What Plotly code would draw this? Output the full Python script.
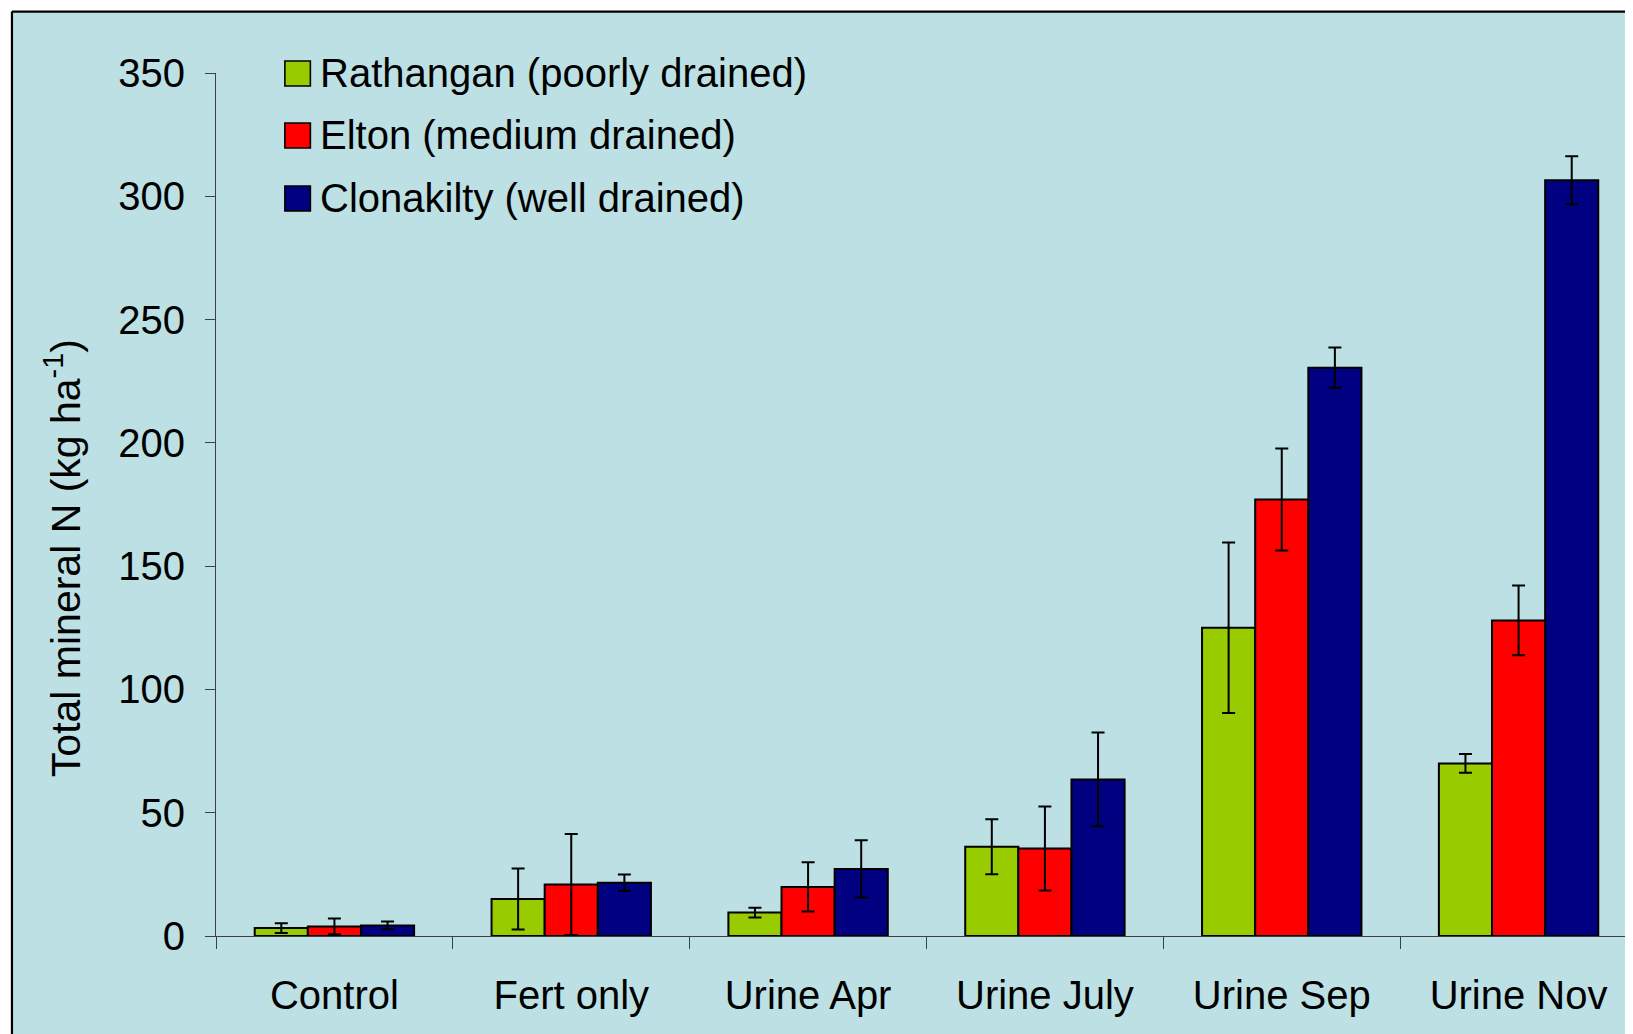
import plotly.graph_objects as go

categories = ["Control", "Fert only", "Urine Apr", "Urine July", "Urine Sep", "Urine Nov"]
series_names = ["Rathangan (poorly drained)", "Elton (medium drained)", "Clonakilty (well drained)"]
rathangan = [3.2, 15.0, 9.5, 36.2, 125.0, 70.0]
rathangan_err = [2.0, 12.4, 2.0, 11.2, 34.6, 3.8]
elton = [3.9, 20.9, 19.9, 35.5, 177.0, 128.0]
elton_err = [3.2, 20.5, 10.0, 17.0, 20.7, 14.1]
clonakilty = [4.3, 21.6, 27.2, 63.5, 230.5, 306.5]
clonakilty_err = [1.6, 3.3, 11.6, 19.0, 8.2, 9.7]
colors = ["#99CC00", "#FF0000", "#000080"]
y_ticks = [0, 50, 100, 150, 200, 250, 300, 350]
y_title = "Total mineral N (kg ha<sup>-1</sup>)"

OFF = 8  # default page body margin
W, H = 1633 - OFF, 1034 - OFF
L, R, T, B = 215.6 - OFF, W, 72.5 - OFF, 936.0 - OFF
R_FULL = 1637.0 - OFF
BG = "#BCE0E3"
FONT = "Liberation Sans, Arial, sans-serif"
FS = 40

def px(x):
    return (x - OFF - L) / (R - L)

def py(y):
    return (B - (y - OFF)) / (B - T)

fig = go.Figure()
for name, vals, errs, col in zip(series_names, [rathangan, elton, clonakilty],
                                  [rathangan_err, elton_err, clonakilty_err], colors):
    fig.add_trace(go.Bar(
        x=categories, y=vals, name=name,
        marker=dict(color=col, line=dict(color="black", width=2)),
        error_y=dict(type="data", array=errs, visible=True, color="black",
                     thickness=2, width=6.5),
        showlegend=False,
    ))

shapes = [
    dict(type="rect", xref="paper", yref="paper", x0=px(0), x1=px(1700), y0=py(0), y1=py(10.5),
         fillcolor="white", line=dict(width=0), layer="below"),
    dict(type="rect", xref="paper", yref="paper", x0=px(0), x1=px(10.5), y0=py(0), y1=py(1100),
         fillcolor="white", line=dict(width=0), layer="below"),
    dict(type="line", xref="paper", yref="paper", x0=px(11.5), x1=px(1700), y0=py(11), y1=py(11),
         line=dict(color="black", width=2.2)),
    dict(type="line", xref="paper", yref="paper", x0=px(11.5), x1=px(11.5), y0=py(11), y1=py(1100),
         line=dict(color="black", width=2.2)),
]
annotations = []
row_y = [73, 135, 198]
for name, col, ry in zip(series_names, colors, row_y):
    shapes.append(dict(type="rect", xref="paper", yref="paper",
                       x0=px(284.5), x1=px(310), y0=py(ry - 12.5), y1=py(ry + 12.5),
                       fillcolor=col, line=dict(color="black", width=1.6)))
    annotations.append(dict(xref="paper", yref="paper", x=px(318), y=py(ry + 0),
                            xanchor="left", yanchor="middle", text=name, showarrow=False,
                            font=dict(family=FONT, size=FS, color="black")))

# y-axis title (placed lower than axis centre, as in the original)
annotations.append(dict(xref="paper", yref="paper", x=px(62.5), y=py(558),
                        xanchor="center", yanchor="middle", textangle=-90,
                        text=y_title, showarrow=False,
                        font=dict(family=FONT, size=41, color="black")))

fig.update_layout(
    width=W, height=H,
    margin=dict(l=L, r=0, t=T, b=H - B, autoexpand=False),
    paper_bgcolor=BG, plot_bgcolor=BG,
    barmode="group", bargap=0.327, bargroupgap=0,
    font=dict(family=FONT, size=FS, color="black"),
    shapes=shapes, annotations=annotations,
    showlegend=False,
)
fig.update_xaxes(
    range=[-0.5, -0.5 + (R - L) / ((R_FULL - L) / 6)],
    showline=True, linecolor="#404040", linewidth=1.2,
    ticks="outside", tickson="boundaries", ticklen=12, tickcolor="#404040", tickwidth=1.2,
    showgrid=False, zeroline=False, ticklabelstandoff=24,
    tickfont=dict(family=FONT, size=FS, color="black"),
)
fig.update_yaxes(
    range=[0, 350], tickvals=y_ticks, ticktext=[str(v) for v in y_ticks],
    showline=True, linecolor="#404040", linewidth=1.2,
    ticks="outside", ticklen=10, tickcolor="#404040", tickwidth=1.2,
    showgrid=False, zeroline=False, ticklabelstandoff=12,
    tickfont=dict(family=FONT, size=FS, color="black"),
)
fig.write_html("out.html")
